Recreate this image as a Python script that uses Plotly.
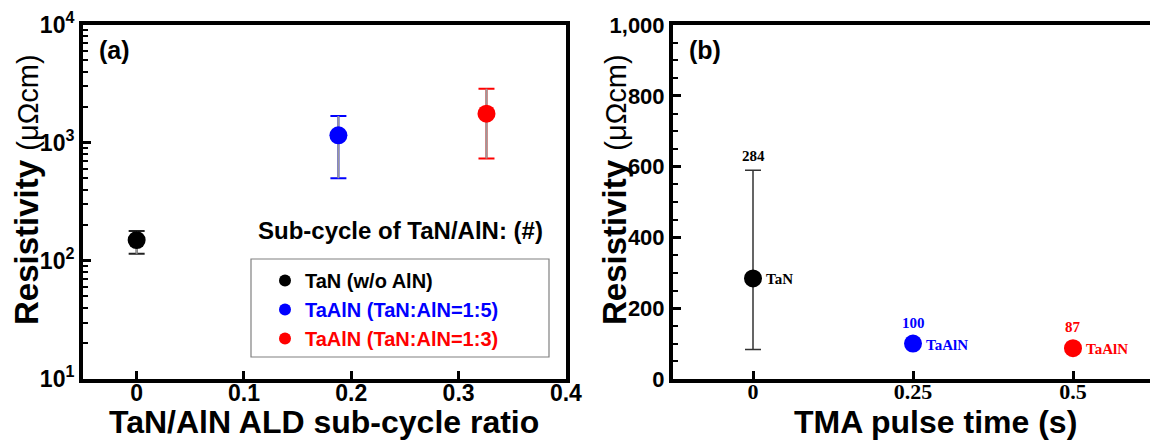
import plotly.graph_objects as go
import numpy as np

# The page body has an 8px margin, so the figure is drawn 8px in from the window corner.
OFF = 8
W, H = 1158 - OFF, 442 - OFF

# ---------------- Panel (a) data ----------------
a_names = ["TaN (w/o AlN)", "TaAlN (TaN:AlN=1:5)", "TaAlN (TaN:AlN=1:3)"]
a_ratio = [0.0, 0.188, 0.326]
a_res = [150, 1155, 1760]
a_err_plus = [29, 527, 1106]
a_err_minus = [35, 655, 1026]
a_colors = ["#000000", "#0000ff", "#ff0000"]
a_cap_colors = ["#222222", "#0000ff", "#ff0000"]
a_xticks = [0, 0.1, 0.2, 0.3, 0.4]
a_xticktext = ["0", "0.1", "0.2", "0.3", "0.4"]
a_yticks = [10, 100, 1000, 10000]
a_yticktext = ["10<sup>1</sup>", "10<sup>2</sup>", "10<sup>3</sup>", "10<sup>4</sup>"]

# ---------------- Panel (b) data ----------------
b_labels = ["TaN", "TaAlN", "TaAlN"]
b_pulse = [0.0, 0.25, 0.5]
b_res = [284, 100, 87]
b_err_plus = [306, 0, 0]
b_err_minus = [201, 0, 0]
b_colors = ["#000000", "#0000ff", "#ff0000"]
b_xticks = [0, 0.25, 0.5]
b_xticktext = ["0", "0.25", "0.5"]


def px(x):
    return (x - OFF) / W


def py(y):
    return 1 - (y - OFF) / H


SANS = "Liberation Sans, Arial"
SERIF = "Liberation Serif, Times New Roman"

fig = go.Figure()

# Panel (a): coloured caps underneath, grey stems + markers on top
for i in range(3):
    fig.add_trace(go.Scatter(
        x=[a_ratio[i]], y=[a_res[i]], mode="markers", xaxis="x", yaxis="y",
        marker=dict(size=18, color=a_colors[i], opacity=0),
        error_y=dict(type="data", symmetric=False, array=[a_err_plus[i]],
                     arrayminus=[a_err_minus[i]], color=a_cap_colors[i],
                     thickness=2, width=8),
        showlegend=False, hoverinfo="skip"))
for i in range(3):
    fig.add_trace(go.Scatter(
        x=[a_ratio[i]], y=[a_res[i]], mode="markers", xaxis="x", yaxis="y",
        marker=dict(size=18, color=a_colors[i]),
        error_y=dict(type="data", symmetric=False, array=[a_err_plus[i]],
                     arrayminus=[a_err_minus[i]], color="#9a9a9a",
                     thickness=2, width=0),
        name=f"<span style='color:{a_colors[i]}'>{a_names[i]}</span>",
        showlegend=True))

# Panel (b)
for i in range(3):
    has_err = b_err_plus[i] > 0
    fig.add_trace(go.Scatter(
        x=[b_pulse[i]], y=[b_res[i]], mode="markers", xaxis="x2", yaxis="y2",
        marker=dict(size=18, color=b_colors[i]),
        error_y=dict(type="data", symmetric=False, array=[b_err_plus[i]],
                     arrayminus=[b_err_minus[i]], color="#333333",
                     thickness=1.5, width=8, visible=has_err),
        showlegend=False))

axis_common = dict(showline=True, linewidth=4, linecolor="black", mirror=True,
                   ticks="inside", ticklen=8, tickwidth=3, tickcolor="black",
                   showgrid=False, zeroline=False, automargin=False,
                   ticklabeloverflow="allow")

minor_log = [m * 10 ** e for e in range(1, 4) for m in range(2, 10)]

fig.update_layout(
    template="none",
    width=W, height=H,
    margin=dict(l=0, r=0, t=0, b=0, autoexpand=False),
    paper_bgcolor="white", plot_bgcolor="white",
    xaxis=dict(domain=[px(83), px(566)], range=[-0.05, 0.4001], anchor="y",
               tickvals=a_xticks, ticktext=a_xticktext, ticklabelstandoff=-10,
               tickfont=dict(family=SANS, size=23, color="black", weight="bold"),
               **axis_common),
    yaxis=dict(domain=[py(379), py(24.5)], type="log", range=[1, 4.0002], anchor="x",
               tickvals=a_yticks, ticktext=a_yticktext,
               tickfont=dict(family=SANS, size=23, color="black", weight="bold"),
               minor=dict(tickvals=minor_log, ticks="inside", ticklen=5,
                          tickwidth=2, tickcolor="black"),
               **axis_common),
    xaxis2=dict(domain=[px(673), px(1153)], range=[-0.125, 0.625], anchor="y2",
                tickvals=b_xticks, ticktext=b_xticktext, ticklabelstandoff=-10,
                tickfont=dict(family=SERIF, size=22, color="black", weight="bold"),
                **axis_common),
    yaxis2=dict(domain=[py(379), py(25)], range=[0, 1000], anchor="x2",
                dtick=200, tickformat=",",
                tickfont=dict(family=SANS, size=22, color="black", weight="bold"),
                minor=dict(dtick=50, ticks="inside", ticklen=5, tickwidth=2,
                           tickcolor="black"),
                **axis_common),
    legend=dict(x=px(265), y=py(261), xanchor="left", yanchor="top",
                bgcolor="rgba(0,0,0,0)", borderwidth=0, itemsizing="constant",
                font=dict(family=SANS, size=20, color="black", weight="bold"),
                tracegroupgap=0),
    showlegend=True,
)

# legend frame
fig.add_shape(type="rect", xref="paper", yref="paper",
              x0=px(251), x1=px(549), y0=py(357), y1=py(259),
              line=dict(color="#808080", width=1.2), fillcolor="rgba(0,0,0,0)")

C = dict(xanchor="center", yanchor="middle", showarrow=False)
ann = []
ann.append(dict(text="Sub-cycle of TaN/AlN: (#)", x=px(400), y=py(230),
                xref="paper", yref="paper", **C,
                font=dict(family=SANS, size=24, color="black", weight="bold")))
ann.append(dict(text="(a)", x=px(97), y=py(50), xref="paper", yref="paper",
                xanchor="left", yanchor="middle", showarrow=False,
                font=dict(family=SANS, size=25, color="black", weight="bold")))
ann.append(dict(text="(b)", x=px(687), y=py(50), xref="paper", yref="paper",
                xanchor="left", yanchor="middle", showarrow=False,
                font=dict(family=SANS, size=25, color="black", weight="bold")))
ytitle = "<b>Resistivity</b> <span style='font-size:29px'>(μΩcm)</span>"
ann.append(dict(text=ytitle, x=px(26), y=py(190), xref="paper", yref="paper",
                textangle=-90, **C,
                font=dict(family=SANS, size=33, color="black")))
ann.append(dict(text=ytitle, x=px(614), y=py(190), xref="paper", yref="paper",
                textangle=-90, **C,
                font=dict(family=SANS, size=33, color="black")))
ann.append(dict(text="TaN/AlN ALD sub-cycle ratio", x=px(324), y=py(422),
                xref="paper", yref="paper", **C,
                font=dict(family=SANS, size=32, color="black", weight="bold")))
ann.append(dict(text="TMA pulse time (s)", x=px(935), y=py(422),
                xref="paper", yref="paper", **C,
                font=dict(family=SANS, size=32, color="black", weight="bold")))

# panel (b) point labels
for i in range(3):
    top = b_res[i] + b_err_plus[i]
    ann.append(dict(text=str(b_res[i]), x=b_pulse[i], y=top, xref="x2", yref="y2",
                    yshift=14 if b_err_plus[i] > 0 else 21,
                    xanchor="center", yanchor="middle", showarrow=False,
                    font=dict(family=SERIF, size=15, color=b_colors[i], weight="bold")))
    ann.append(dict(text=b_labels[i], x=b_pulse[i], y=b_res[i], xref="x2", yref="y2",
                    xanchor="left", yanchor="middle", xshift=11, yshift=-1,
                    showarrow=False,
                    font=dict(family=SERIF, size=15, color=b_colors[i], weight="bold")))

fig.update_layout(annotations=ann)
fig.write_html("out.html")
